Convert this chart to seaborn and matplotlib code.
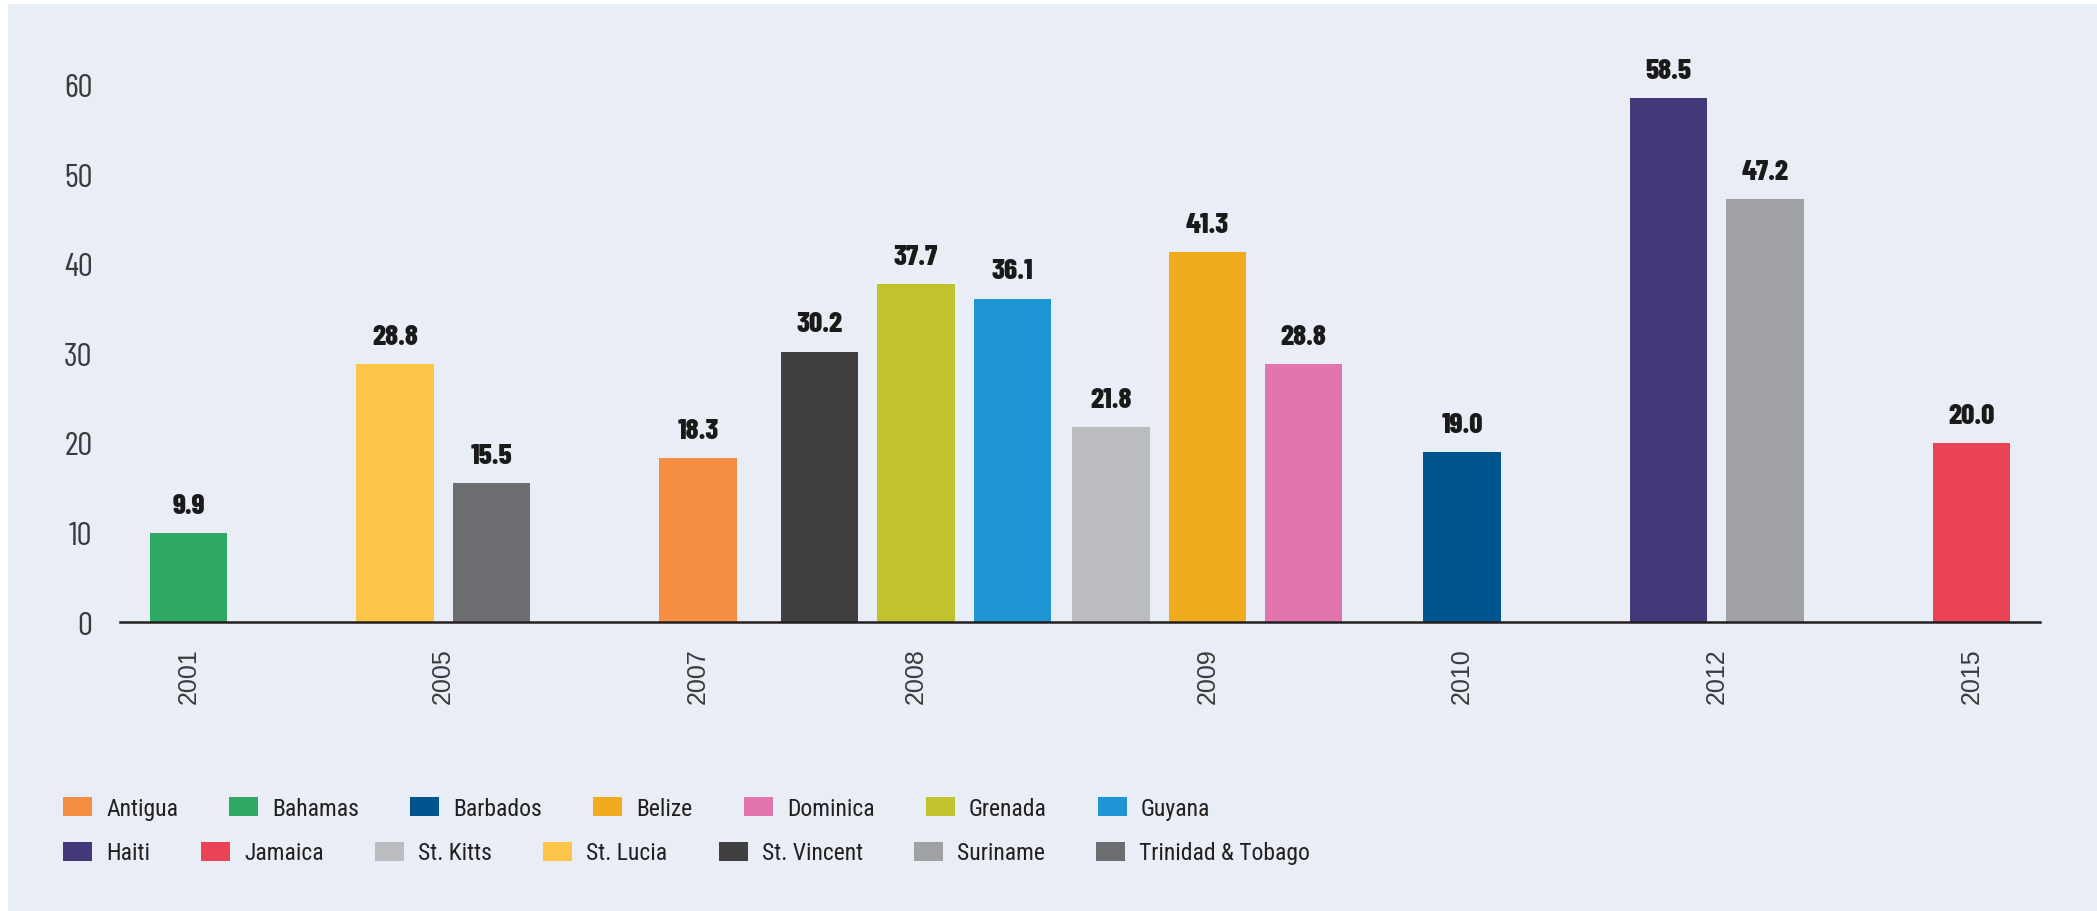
import pandas as pd
import matplotlib.pyplot as plt
import seaborn as sns
from matplotlib.patches import Patch, Rectangle

# data
years = ['2001', '2005', '2007', '2008', '2009', '2010', '2012', '2015']
bar_year = ['2001', '2005', '2005', '2007', '2008', '2008', '2008',
            '2009', '2009', '2009', '2010', '2012', '2012', '2015']
bar_country = ['Bahamas', 'St. Lucia', 'Trinidad & Tobago', 'Antigua',
               'St. Vincent', 'Grenada', 'Guyana', 'St. Kitts', 'Belize',
               'Dominica', 'Barbados', 'Haiti', 'Suriname', 'Jamaica']
bar_value = [9.9, 28.8, 15.5, 18.3, 30.2, 37.7, 36.1,
             21.8, 41.3, 28.8, 19.0, 58.5, 47.2, 20.0]

legend_row1 = ['Antigua', 'Bahamas', 'Barbados', 'Belize', 'Dominica', 'Grenada', 'Guyana']
legend_row2 = ['Haiti', 'Jamaica', 'St. Kitts', 'St. Lucia', 'St. Vincent', 'Suriname', 'Trinidad & Tobago']

palette = {
    'Antigua': '#F68D45', 'Bahamas': '#2EA862', 'Barbados': '#00558F',
    'Belize': '#F0AC1E', 'Dominica': '#E274AE', 'Grenada': '#C0C22E',
    'Guyana': '#1E96D4', 'Haiti': '#42387A', 'Jamaica': '#E94355',
    'St. Kitts': '#BBBCBF', 'St. Lucia': '#FCC547', 'St. Vincent': '#404041',
    'Suriname': '#A0A1A4', 'Trinidad & Tobago': '#6C6D70',
}

df = pd.DataFrame({'year': bar_year, 'country': bar_country, 'value': bar_value})

# layout: years evenly spaced, bars side by side inside a year,
# a year is pushed left when it would touch the next one
pitch = 2.645
bar_w = 0.805
min_gap = 0.22
groups = []
for i, y in enumerate(years):
    n = (df['year'] == y).sum()
    groups.append([i * pitch + k - (n - 1) / 2 for k in range(n)])
for i in range(len(groups) - 2, -1, -1):
    limit = groups[i + 1][0] - bar_w - min_gap
    if groups[i][-1] > limit:
        shift = groups[i][-1] - limit
        groups[i] = [p - shift for p in groups[i]]
df['pos'] = [p for g in groups for p in g]
centers = [sum(g) / len(g) for g in groups]

sns.set_theme(style='white')
cond = ['Roboto Condensed', 'IBM Plex Sans Condensed', 'DejaVu Sans']
narrow = ['Barlow Condensed', 'Roboto Condensed', 'DejaVu Sans']
plt.rcParams['font.family'] = cond

fig = plt.figure(figsize=(20.97, 9.12), dpi=100)
fig.patch.set_facecolor('white')
fig.patches.append(Rectangle((8 / 2097, 0), 1, 1 - 5 / 912, transform=fig.transFigure,
                             facecolor='#E8EDF6', edgecolor='none', zorder=-10))
ax = fig.add_axes([0.0574, 0.3167, 0.9152, 0.6386])
ax.set_facecolor('none')

sns.barplot(data=df, x='pos', y='value', hue='country', palette=palette,
            native_scale=True, dodge=False, width=bar_w, errorbar=None,
            saturation=1, legend=False, linewidth=0, ax=ax)

for cont in ax.containers:
    ax.bar_label(cont, fmt='%.1f', padding=11, fontsize=21, fontweight='heavy',
                 color='#1A1A1A', family=narrow)

ax.set_xlim(groups[0][0] - 0.708, groups[-1][-1] + 0.708)
ax.set_ylim(0, 65)
ax.set_yticks(range(0, 61, 10))
ax.set_yticklabels([str(v) for v in range(0, 61, 10)], fontsize=24, color='#3A3A3A',
                   family=narrow)
ax.set_xticks(centers)
ax.set_xticklabels(years, rotation=90, fontsize=18, color='#3A3A3A',
                   family=['Liberation Sans', 'DejaVu Sans'])
ax.tick_params(axis='both', length=0)
ax.tick_params(axis='y', pad=20)
ax.tick_params(axis='x', pad=18)
ax.set_xlabel('')
ax.set_ylabel('')
for side in ['top', 'right', 'left']:
    ax.spines[side].set_visible(False)
ax.spines['bottom'].set_color('#231F20')
ax.spines['bottom'].set_linewidth(1.8)

for row, ypos in [(legend_row1, 0.1129), (legend_row2, 0.0636)]:
    handles = [Patch(facecolor=palette[c], edgecolor='none', label=c) for c in row]
    fig.legend(handles=handles, ncol=7, loc='center left',
               bbox_to_anchor=(0.0256, ypos), frameon=False, fontsize=17,
               handlelength=1.23, handleheight=0.89, handletextpad=0.6,
               columnspacing=2.16, labelcolor='#231F20', borderaxespad=0)

fig.savefig('out.png', dpi=100)
